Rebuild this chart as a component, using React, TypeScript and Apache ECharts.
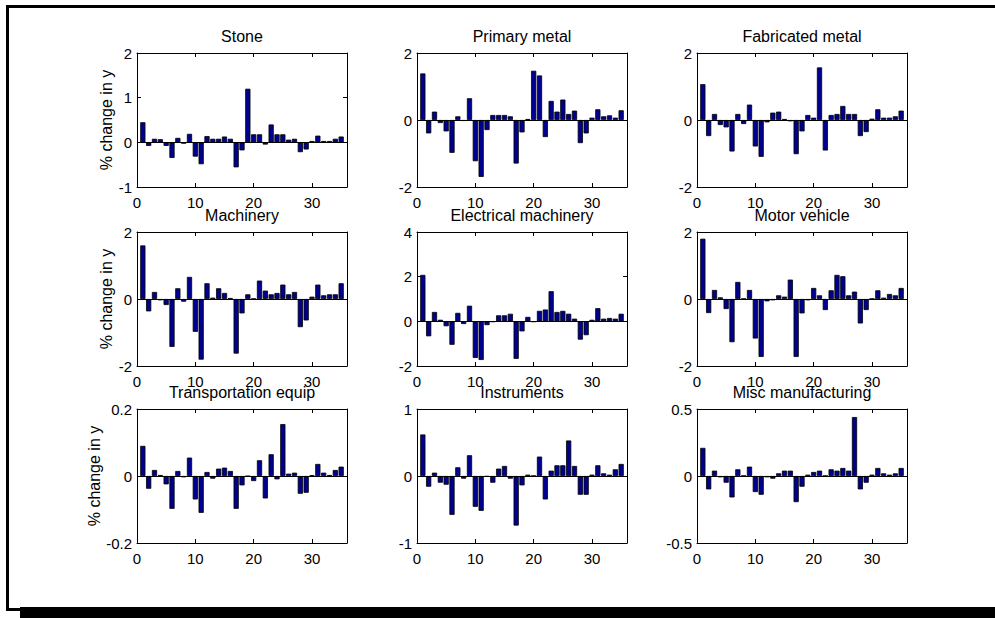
import React, { useEffect, useRef } from "react";
import * as echarts from "echarts";

const periods = [1, 2, 3, 4, 5, 6, 7, 8, 9, 10, 11, 12, 13, 14, 15, 16, 17, 18, 19, 20, 21, 22, 23, 24, 25, 26, 27, 28, 29, 30, 31, 32, 33, 34, 35];
const xTicks = [0, 10, 20, 30];

const stone = [0.45, -0.08, 0.08, 0.07, -0.08, -0.35, 0.1, -0.03, 0.19, -0.32, -0.49, 0.14, 0.08, 0.08, 0.13, 0.08, -0.56, -0.18, 1.2, 0.18, 0.18, -0.05, 0.4, 0.18, 0.18, 0.06, 0.08, -0.22, -0.16, 0.03, 0.15, 0.03, 0.03, 0.08, 0.13];
const primaryMetal = [1.39, -0.4, 0.25, -0.09, -0.34, -0.98, 0.11, -0.03, 0.65, -1.23, -1.7, -0.3, 0.15, 0.15, 0.15, 0.11, -1.3, -0.37, 0.03, 1.47, 1.33, -0.51, 0.57, 0.25, 0.61, 0.18, 0.28, -0.69, -0.4, 0.07, 0.32, 0.11, 0.14, 0.07, 0.29];
const fabricatedMetal = [1.07, -0.48, 0.18, -0.15, -0.22, -0.94, 0.18, -0.12, 0.46, -0.79, -1.1, -0.07, 0.22, 0.25, 0.03, -0.04, -1.02, -0.34, 0.15, 0.07, 1.57, -0.91, 0.15, 0.18, 0.42, 0.18, 0.18, -0.48, -0.36, 0.04, 0.32, 0.07, 0.07, 0.11, 0.28];
const machinery = [1.6, -0.37, 0.21, -0.04, -0.18, -1.43, 0.32, -0.08, 0.66, -0.98, -1.81, 0.47, 0.04, 0.32, 0.18, 0.03, -1.63, -0.43, 0.14, 0.01, 0.55, 0.25, 0.14, 0.18, 0.43, 0.14, 0.21, -0.84, -0.64, 0.07, 0.43, 0.11, 0.14, 0.14, 0.47];
const electricalMachinery = [2.08, -0.67, 0.42, 0.07, -0.22, -1.05, 0.38, -0.12, 0.7, -1.64, -1.73, -0.17, -0.03, 0.27, 0.27, 0.34, -1.68, -0.45, 0.2, -0.03, 0.47, 0.53, 1.35, 0.42, 0.47, 0.34, 0.12, -0.82, -0.62, 0.07, 0.59, 0.12, 0.15, 0.12, 0.34];
const motorVehicle = [1.8, -0.42, 0.27, 0.05, -0.3, -1.29, 0.51, 0.01, 0.27, -1.18, -1.73, -0.07, -0.04, 0.11, 0.07, 0.58, -1.73, -0.43, -0.04, 0.33, 0.11, -0.33, 0.26, 0.72, 0.68, 0.11, 0.22, -0.73, -0.33, 0.01, 0.26, 0.04, 0.15, 0.11, 0.33];
const transportationEquip = [0.09, -0.038, 0.018, 0.003, -0.025, -0.098, 0.015, -0.004, 0.055, -0.07, -0.11, 0.012, -0.008, 0.022, 0.025, 0.015, -0.098, -0.028, -0.001, -0.015, 0.047, -0.067, 0.065, -0.01, 0.155, 0.007, 0.01, -0.053, -0.05, 0.002, 0.036, 0.01, 0.003, 0.018, 0.028];
const instruments = [0.62, -0.16, 0.05, -0.1, -0.13, -0.58, 0.13, -0.04, 0.31, -0.46, -0.52, -0.01, -0.1, 0.11, 0.15, -0.04, -0.74, -0.14, 0.02, 0.003, 0.29, -0.35, 0.08, 0.16, 0.16, 0.53, 0.15, -0.28, -0.28, 0.02, 0.16, 0.04, 0.02, 0.1, 0.18];
const miscManufacturing = [0.21, -0.1, 0.04, -0.01, -0.05, -0.16, 0.05, 0.002, 0.07, -0.12, -0.14, -0.01, -0.02, 0.02, 0.04, 0.04, -0.195, -0.08, 0.01, 0.03, 0.04, 0.002, 0.05, 0.04, 0.06, 0.04, 0.44, -0.1, -0.05, 0.01, 0.06, 0.02, 0.01, 0.02, 0.06];

const panelTitles = ["Stone", "Primary metal", "Fabricated metal", "Machinery", "Electrical machinery", "Motor vehicle", "Transportation equip", "Instruments", "Misc manufacturing"];
const panelValues = [stone, primaryMetal, fabricatedMetal, machinery, electricalMachinery, motorVehicle, transportationEquip, instruments, miscManufacturing];
const yMins = [-1, -2, -2, -2, -2, -2, -0.2, -1, -0.5];
const yMaxs = [2, 2, 2, 2, 4, 2, 0.2, 1, 0.5];
const yIntervals = [1, 2, 2, 2, 2, 2, 0.2, 1, 0.5];
const yLabel = "% change in y";

const FONT = "'Liberation Sans', Arial, Helvetica, sans-serif";
const colLefts = [137, 417, 697];
const rowTops = [53, 232, 409];
const GRID_W = 210;
const GRID_H = 134;

export default function App() {
  const ref = useRef<HTMLDivElement>(null);
  useEffect(() => {
    if (!ref.current) return;
    const chart = echarts.init(ref.current, undefined, { renderer: "svg" });
    const grids: any[] = [];
    const xAxes: any[] = [];
    const yAxes: any[] = [];
    const series: any[] = [];
    const graphics: any[] = [];
    const lineStyle = { color: "#000", width: 1 };
    panelTitles.forEach((title, i) => {
      const r = Math.floor(i / 3);
      const c = i % 3;
      const left = colLefts[c];
      const top = rowTops[r];
      grids.push({ left, top, width: GRID_W, height: GRID_H, containLabel: false });
      const baseX = {
        gridIndex: i,
        type: "value",
        min: 0,
        max: 36,
        interval: 10,
        splitLine: { show: false },
        axisLine: { show: true, onZero: false, lineStyle },
        axisTick: { show: true, inside: true, length: 4, lineStyle, customValues: xTicks },
      };
      xAxes.push({
        ...baseX,
        position: "bottom",
        axisLabel: { show: true, showMaxLabel: false, color: "#000", fontSize: 15, fontFamily: FONT, margin: 8 },
      });
      xAxes.push({ ...baseX, position: "top", axisLabel: { show: false } });
      const baseY = {
        gridIndex: i,
        type: "value",
        min: yMins[i],
        max: yMaxs[i],
        interval: yIntervals[i],
        splitLine: { show: false },
        axisLine: { show: true, onZero: false, lineStyle },
        axisTick: { show: true, inside: true, length: 4, lineStyle },
      };
      yAxes.push({
        ...baseY,
        position: "left",
        axisLabel: { show: true, color: "#000", fontSize: 15, fontFamily: FONT, margin: 5 },
        name: c === 0 ? yLabel : "",
        nameLocation: "middle",
        nameGap: 22,
        nameTextStyle: { color: "#000", fontSize: 16, fontFamily: FONT },
      });
      yAxes.push({ ...baseY, position: "right", axisLabel: { show: false } });
      series.push({
        type: "bar",
        xAxisIndex: 2 * i,
        yAxisIndex: 2 * i,
        data: periods.map((p, k) => [p, panelValues[i][k]]),
        barWidth: 5.2,
        itemStyle: { color: "#00008F", borderColor: "#000", borderWidth: 0.8 },
        markLine: {
          silent: true,
          symbol: "none",
          label: { show: false },
          lineStyle: { color: "#000", width: 1, type: "solid" },
          data: [{ yAxis: 0 }],
        },
      });
      graphics.push({
        type: "text",
        x: left + GRID_W / 2,
        y: top - 17,
        style: { text: title, fill: "#000", font: `16px ${FONT}`, align: "center", verticalAlign: "middle" },
      });
    });
    const frameStyle = { stroke: "#000", lineWidth: 3 };
    graphics.push({ type: "rect", silent: true, shape: { x: 980, y: 9, width: 20, height: 597 }, style: { fill: "#fff" } });
    graphics.push({ type: "line", silent: true, shape: { x1: 6, y1: 6.5, x2: 1000, y2: 6.5 }, style: frameStyle });
    graphics.push({ type: "line", silent: true, shape: { x1: 7.5, y1: 5, x2: 7.5, y2: 611 }, style: frameStyle });
    graphics.push({ type: "line", silent: true, shape: { x1: 6, y1: 609.5, x2: 22, y2: 609.5 }, style: frameStyle });
    graphics.push({
      type: "rect",
      silent: true,
      shape: { x: 20, y: 607, width: 980, height: 11 },
      style: { fill: "#000" },
    });
    chart.setOption({
      animation: false,
      backgroundColor: "#fff",
      grid: grids,
      xAxis: xAxes,
      yAxis: yAxes,
      series,
      graphic: graphics,
    });
    return () => chart.dispose();
  }, []);
  return <div ref={ref} style={{ position: "absolute", left: 0, top: 0, width: 995, height: 618 }} />;
}
